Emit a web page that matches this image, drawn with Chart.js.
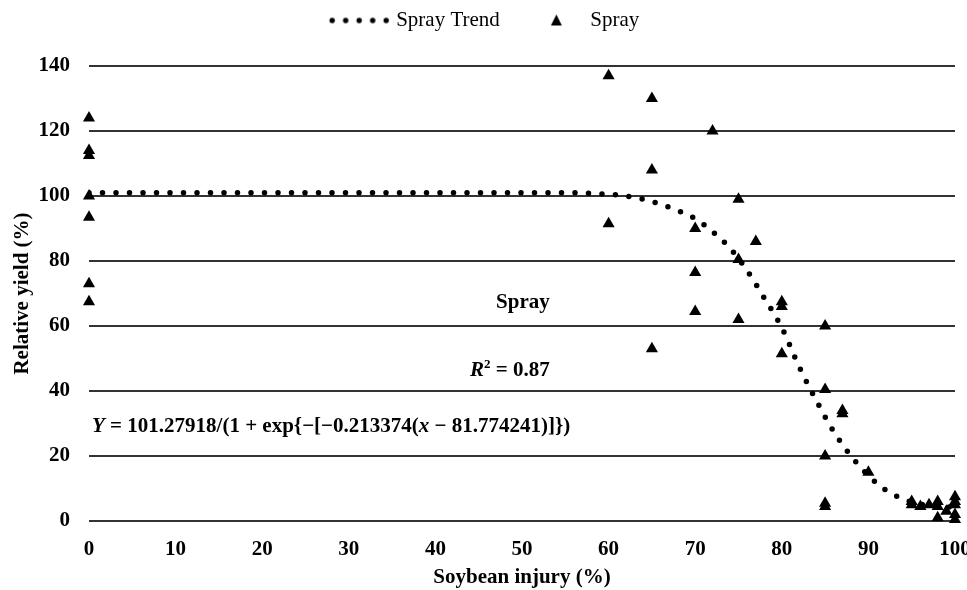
<!DOCTYPE html>
<html>
<head>
<meta charset="utf-8">
<script src="https://cdn.jsdelivr.net/npm/chart.js@4.4.1/dist/chart.umd.min.js"></script>
<style>
  html, body { margin: 0; padding: 0; background: #fff; }
</style>
</head>
<body>
<canvas id="chart" width="967" height="590"></canvas>
<script>
// spray trend
const trendX = [0, 10, 20, 30, 40, 50, 55, 60, 62, 64, 66, 68, 70, 72, 74, 76, 78, 80, 82, 84, 86, 88, 90, 92, 94, 96, 98, 100];
const trendY = [101, 101, 101, 101, 101, 101, 101, 100.5, 100, 99, 97.5, 95.5, 93, 89, 84, 77, 68.5, 59.5, 47.5, 37, 27.5, 20, 14, 9.5, 6.8, 5.2, 4.6, 4.2];

// spray observations (soybean injury %, relative yield %)
const sprayX = [0, 0, 0, 0, 0, 0, 0, 60, 60, 65, 65, 65, 70, 70, 70, 72, 75, 75, 75, 77, 80, 80, 80, 85, 85, 85, 85, 85, 87, 87, 90, 95, 95, 96, 97, 98, 98, 98, 99, 100, 100, 100, 100, 100];
const sprayY = [124, 114, 112.5, 100, 93.5, 73, 67.5, 137, 91.5, 130, 108, 53, 90, 76.5, 64.5, 120, 99, 80.5, 62, 86, 67.5, 66, 51.5, 60, 40.5, 20, 5.5, 4.5, 34, 33, 15, 6, 5, 4.5, 5, 6, 4.5, 1, 3, 7.5, 6, 5, 2, 0.5];

const xTicks = [0, 10, 20, 30, 40, 50, 60, 70, 80, 90, 100];
const yTicks = [0, 20, 40, 60, 80, 100, 120, 140];

const serif = "'Liberation Serif', 'Times New Roman', serif";

// legend icons
function dotsIcon() {
  const c = document.createElement("canvas");
  c.width = 80; c.height = 10;
  const g = c.getContext("2d");
  g.fillStyle = "#000";
  for (let i = 0; i < 5; i++) {
    g.beginPath();
    g.arc(21.5 + i * 13.5, 5, 2.7, 0, Math.PI * 2);
    g.fill();
  }
  return c;
}
function triangleIcon() {
  const c = document.createElement("canvas");
  c.width = 40; c.height = 14;
  const g = c.getContext("2d");
  g.fillStyle = "#000";
  g.beginPath();
  g.moveTo(31.5, 1);
  g.lineTo(37, 12);
  g.lineTo(26, 12);
  g.closePath();
  g.fill();
  return c;
}

// extra room under the legend
const legendGap = {
  id: "legendGap",
  beforeInit(chart) {
    const fit = chart.legend.fit;
    chart.legend.fit = function () {
      fit.call(this);
      this.height += 25;
    };
  },
};

// text runs with italic / superscript parts
function drawRuns(ctx, runs, x, y, align) {
  const base = 21;
  const fontFor = r => `${r.i ? "italic " : ""}bold ${r.sup ? 13 : base}px ${serif}`;
  let total = 0;
  runs.forEach(r => { ctx.font = fontFor(r); total += ctx.measureText(r.t).width; });
  let cx = align === "right" ? x - total : x;
  ctx.textAlign = "left";
  ctx.textBaseline = "alphabetic";
  runs.forEach(r => {
    ctx.font = fontFor(r);
    ctx.fillText(r.t, cx, r.sup ? y - 8 : y);
    cx += ctx.measureText(r.t).width;
  });
}

const notes = {
  id: "notes",
  afterDatasetsDraw(chart) {
    const { ctx, scales: { x, y } } = chart;
    ctx.save();
    ctx.fillStyle = "#000";
    drawRuns(ctx, [{ t: "Spray" }], x.getPixelForValue(53.2), y.getPixelForValue(65.5), "right");
    drawRuns(ctx, [{ t: "R", i: true }, { t: "2", sup: true }, { t: " = 0.87" }],
      x.getPixelForValue(53.2), y.getPixelForValue(44.6), "right");
    drawRuns(ctx, [
      { t: "Y", i: true },
      { t: " = 101.27918/(1 + exp{\u2212[\u22120.213374(" },
      { t: "x", i: true },
      { t: " \u2212 81.774241)]})" },
    ], x.getPixelForValue(0.35), y.getPixelForValue(27.4), "left");
    ctx.restore();
  },
};

new Chart(document.getElementById("chart"), {
  type: "scatter",
  data: {
    datasets: [
      {
        label: "Spray Trend",
        type: "line",
        data: trendX.map((v, i) => ({ x: v, y: trendY[i] })),
        borderColor: "#000",
        borderWidth: 5.5,
        borderDash: [0, 13.5],
        borderCapStyle: "round",
        cubicInterpolationMode: "monotone",
        pointRadius: 0,
        fill: false,
        order: 1,
      },
      {
        label: "Spray",
        data: sprayX.map((v, i) => ({ x: v, y: sprayY[i] })),
        pointStyle: "triangle",
        radius: 7,
        backgroundColor: "#000",
        borderWidth: 0,
        clip: false,
        order: 0,
      },
    ],
  },
  options: {
    responsive: false,
    animation: false,
    layout: { padding: { left: 0, right: 12, top: 0, bottom: 0 } },
    plugins: {
      tooltip: { enabled: false },
      legend: {
        position: "top",
        labels: {
          usePointStyle: true,
          pointStyleWidth: 70,
          padding: 10,
          color: "#000",
          font: { family: serif, size: 21 },
          generateLabels: () => [
            { text: "Spray Trend", pointStyle: dotsIcon(), datasetIndex: 0, fillStyle: "#000", strokeStyle: "#000", lineWidth: 0, fontColor: "#000" },
            { text: "Spray", pointStyle: triangleIcon(), datasetIndex: 1, fillStyle: "#000", strokeStyle: "#000", lineWidth: 0, fontColor: "#000" },
          ],
        },
      },
    },
    scales: {
      x: {
        type: "linear",
        min: 0,
        max: 100,
        afterBuildTicks: s => { s.ticks = xTicks.map(v => ({ value: v })); },
        afterFit: s => { s.height = 69; s.paddingLeft = 0; s.paddingRight = 0; },
        ticks: { padding: 16, color: "#000", font: { family: serif, size: 21, weight: "bold" } },
        grid: { display: false, drawTicks: false },
        border: { display: false },
        title: {
          display: true,
          text: "Soybean injury (%)",
          color: "#000",
          font: { family: serif, size: 21, weight: "bold" },
          padding: { top: 0, bottom: 0 },
        },
      },
      y: {
        min: 0,
        max: 140,
        afterBuildTicks: s => { s.ticks = yTicks.map(v => ({ value: v })); },
        afterFit: s => { s.width = 89; s.paddingTop = 0; s.paddingBottom = 0; },
        ticks: { padding: 19, color: "#000", font: { family: serif, size: 21, weight: "bold" } },
        grid: { color: "#333", lineWidth: 2, drawTicks: false },
        border: { display: false },
        title: {
          display: true,
          text: "Relative yield (%)",
          color: "#000",
          font: { family: serif, size: 21, weight: "bold" },
          padding: { top: 10, bottom: 0 },
        },
      },
    },
  },
  plugins: [legendGap, notes],
});
</script>
</body>
</html>
